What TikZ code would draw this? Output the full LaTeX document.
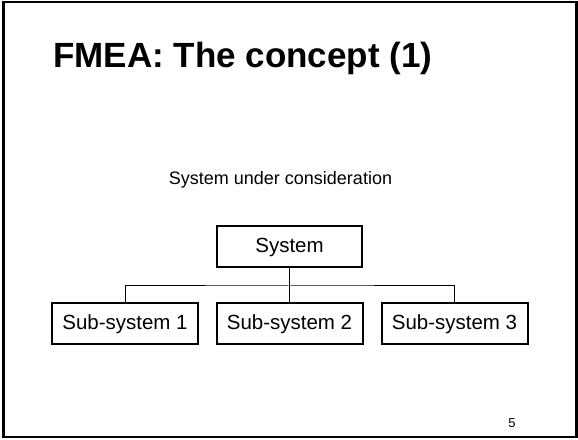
\documentclass[tikz,border=0pt]{standalone}
\usepackage{fontspec}
\setmainfont{Liberation Sans}
\begin{document}
\begin{tikzpicture}[x=1pt,y=1pt,
  unitbox/.style={draw,line width=2pt,minimum width=146pt,minimum height=41pt,
    inner sep=0pt,font=\fontsize{20.5}{22}\selectfont},
  link/.style={line width=1pt}]
\useasboundingbox (0,0) rectangle (578,439);
% slide frame
\draw[line width=2.5pt] (3.7,437) rectangle (576.7,2);
% title
\node[anchor=base west,inner sep=0pt,font=\fontsize{35}{40}\selectfont\bfseries]
  (title) at (53,371) {FMEA: The concept (1)};
\node[inner sep=0pt,font=\fontsize{18}{20}\selectfont] (caption) at (280.5,259)
  {System under consideration};
% hierarchy
\node[unitbox,minimum width=145pt] (sys) at (289.5,192) {System};
\node[unitbox] (s1) at (125,115) {Sub-system 1};
\node[unitbox] (s2) at (289.5,115) {Sub-system 2};
\node[unitbox] (s3) at (454.5,115) {Sub-system 3};
\coordinate (bus) at (289.5,153);
\draw[link] (sys.south) -- (s2.north);
\draw[link] (s1.north) |- (bus) -| (s3.north);
% page number
\node[inner sep=0pt,font=\fontsize{13}{15}\selectfont] (page) at (512,16) {5};
\end{tikzpicture}
\end{document}
